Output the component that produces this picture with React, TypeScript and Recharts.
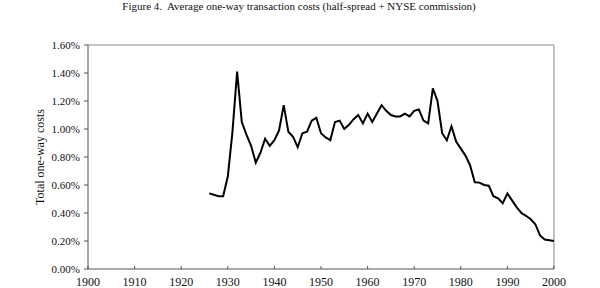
import { LineChart, Line, XAxis, YAxis, ReferenceLine } from 'recharts'

const years = [
  1926, 1927, 1928, 1929, 1930, 1931, 1932, 1933, 1934, 1935, 1936, 1937, 1938, 1939, 1940,
  1941, 1942, 1943, 1944, 1945, 1946, 1947, 1948, 1949, 1950, 1951, 1952, 1953, 1954, 1955,
  1956, 1957, 1958, 1959, 1960, 1961, 1962, 1963, 1964, 1965, 1966, 1967, 1968, 1969, 1970,
  1971, 1972, 1973, 1974, 1975, 1976, 1977, 1978, 1979, 1980, 1981, 1982, 1983, 1984, 1985,
  1986, 1987, 1988, 1989, 1990, 1991, 1992, 1993, 1994, 1995, 1996, 1997, 1998, 1999, 2000,
]

// total one-way cost, in percent
const costs = [
  0.54, 0.53, 0.52, 0.52, 0.66, 0.98, 1.41, 1.05, 0.96, 0.88, 0.76, 0.83, 0.93, 0.88, 0.92,
  0.99, 1.17, 0.98, 0.945, 0.87, 0.97, 0.98, 1.06, 1.08, 0.97, 0.94, 0.92, 1.05, 1.06, 1.0,
  1.03, 1.07, 1.1, 1.04, 1.11, 1.05, 1.11, 1.17, 1.13, 1.1, 1.09, 1.09, 1.11, 1.09, 1.13,
  1.14, 1.06, 1.04, 1.29, 1.2, 0.97, 0.92, 1.02, 0.91, 0.86, 0.81, 0.74, 0.62, 0.617, 0.6,
  0.595, 0.52, 0.505, 0.47, 0.54, 0.49, 0.44, 0.4, 0.38, 0.355, 0.32, 0.24, 0.21, 0.205, 0.2,
]

const xTicks = [1900, 1910, 1920, 1930, 1940, 1950, 1960, 1970, 1980, 1990, 2000]
const yTicks = [0, 0.2, 0.4, 0.6, 0.8, 1.0, 1.2, 1.4, 1.6]

const title = 'Figure 4.  Average one-way transaction costs (half-spread + NYSE commission)'
const yLabel = 'Total one-way costs'

const data = years.map((year, i) => ({ year, cost: costs[i] }))

const serif = '"Liberation Serif", "Times New Roman", serif'

function XTick(props: any) {
  const { x, y, payload } = props
  return (
    <g>
      <line x1={x} y1={y} x2={x} y2={y - 3} stroke="#555" strokeWidth={1} />
      <text x={x} y={y + 17} textAnchor="middle" fontSize={12} fontFamily={serif} fill="#111">
        {payload.value}
      </text>
    </g>
  )
}

export default function App() {
  return (
    <div style={{ position: 'absolute', left: 0, top: 0, width: 600, height: 288, background: '#fff', overflow: 'hidden' }}>
      <div
        style={{
          position: 'absolute',
          left: 0,
          width: 598,
          top: 0,
          textAlign: 'center',
          fontFamily: serif,
          fontSize: 11,
          color: '#111',
          whiteSpace: 'pre',
        }}
      >
        {title}
      </div>
      <LineChart width={600} height={288} data={data} margin={{ top: 45, right: 46, left: 0, bottom: 0 }}>
        <XAxis
          dataKey="year"
          type="number"
          domain={[1900, 2000]}
          ticks={xTicks}
          height={19}
          tickSize={0}
          tickMargin={0}
          tickLine={false}
          tick={<XTick />}
          axisLine={{ stroke: '#555' }}
        />
        <YAxis
          type="number"
          domain={[0, 1.6]}
          ticks={yTicks}
          width={88}
          tickSize={4}
          tickMargin={4}
          tickLine={{ stroke: '#555' }}
          axisLine={{ stroke: '#555' }}
          tickFormatter={(v: number) => `${v.toFixed(2)}%`}
          tick={{ fill: '#111', fontSize: 11, fontFamily: serif }}
          label={{ value: yLabel, angle: -90, position: 'center', dx: -4, fill: '#111', fontSize: 12, fontFamily: serif }}
        />
        <ReferenceLine y={1.6} stroke="#888" strokeWidth={1} />
        <ReferenceLine x={2000} stroke="#888" strokeWidth={1} />
        <Line
          dataKey="cost"
          stroke="#000"
          strokeWidth={2}
          dot={false}
          isAnimationActive={false}
        />
      </LineChart>
    </div>
  )
}
